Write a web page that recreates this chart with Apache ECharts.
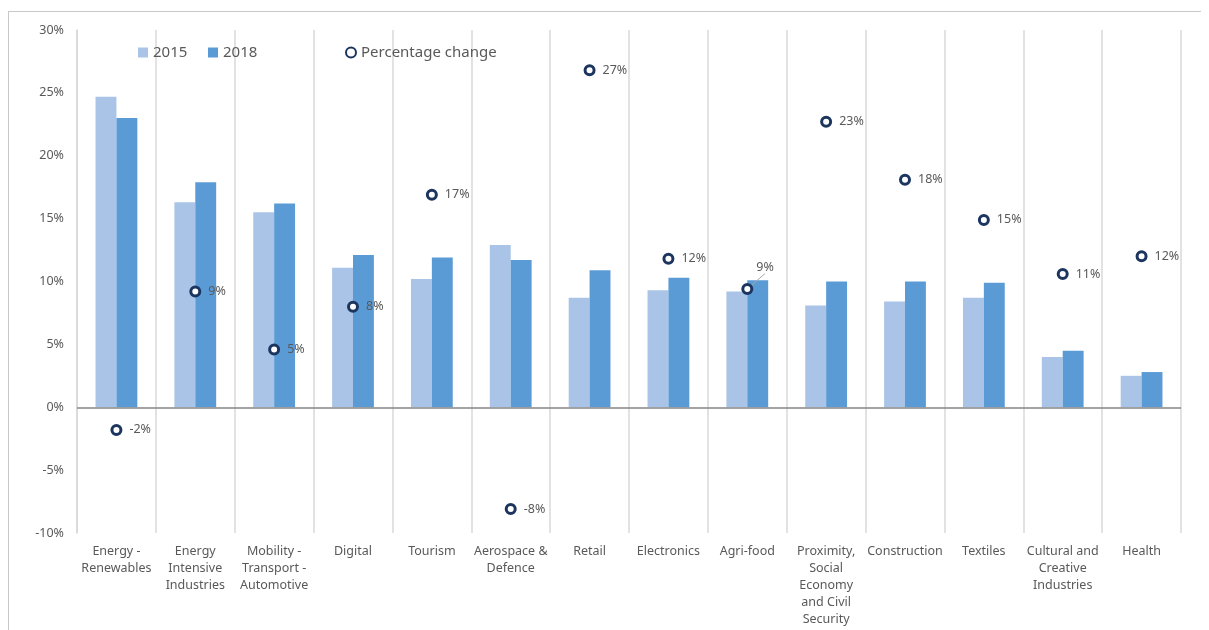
<!DOCTYPE html>
<html>
<head>
<meta charset="utf-8">
<script src="https://cdn.jsdelivr.net/npm/echarts@6/dist/echarts.min.js"></script>
<style>
  html, body { margin: 0; padding: 0; background: #fff; }
  #frame {
    position: absolute; left: 8px; top: 11px; width: 1192px; height: 630px;
    border-top: 1px solid #c8c8c8; border-left: 1px solid #c8c8c8;
  }
  #chart { position: absolute; left: 0; top: 0; width: 1209px; height: 630px; }
</style>
</head>
<body>
<div id="frame"></div>
<div id="chart"></div>
<script>
const categories = [
  'Energy -\nRenewables',
  'Energy\nIntensive\nIndustries',
  'Mobility -\nTransport -\nAutomotive',
  'Digital',
  'Tourism',
  'Aerospace &\nDefence',
  'Retail',
  'Electronics',
  'Agri-food',
  'Proximity,\nSocial\nEconomy\nand Civil\nSecurity',
  'Construction',
  'Textiles',
  'Cultural and\nCreative\nIndustries',
  'Health',
]
const share2015 = [24.7, 16.3, 15.5, 11.1, 10.2, 12.9, 8.7, 9.3, 9.2, 8.1, 8.4, 8.7, 4.0, 2.5]
const share2018 = [23.0, 17.9, 16.2, 12.1, 11.9, 11.7, 10.9, 10.3, 10.1, 10.0, 10.0, 9.9, 4.5, 2.8]
const pctChange = [-1.8, 9.2, 4.6, 8.0, 16.9, -8.1, 26.8, 11.8, 9.4, 22.7, 18.1, 14.9, 10.6, 12.0]

const font = 'Noto Sans'
const textColor = '#595959'
// the agri-food label sits above its marker with a leader line
const movedLabel = 8

const chart = echarts.init(document.getElementById('chart'))

chart.setOption({
  animation: false,
  textStyle: { fontFamily: font },
  legend: [
    {
      left: 133,
      top: 40,
      icon: 'rect',
      itemWidth: 10,
      itemHeight: 10,
      itemGap: 8,
      data: ['2015'],
      textStyle: { fontSize: 15, color: textColor, fontFamily: font },
    },
    {
      left: 203,
      top: 40,
      icon: 'rect',
      itemWidth: 10,
      itemHeight: 10,
      data: ['2018'],
      textStyle: { fontSize: 15, color: textColor, fontFamily: font },
    },
    {
      left: 340,
      top: 40,
      itemWidth: 10,
      itemHeight: 10,
      data: ['Percentage change'],
      textStyle: { fontSize: 15, color: textColor, fontFamily: font },
    },
  ],
  grid: {
    top: 30,
    left: 77,
    right: 28,
    bottom: 97,
    containLabel: false,
  },
  xAxis: {
    type: 'category',
    data: categories,
    boundaryGap: true,
    axisLine: { show: false, onZero: false },
    axisTick: { show: false },
    splitLine: {
      show: true,
      interval: 0,
      lineStyle: { color: '#d9d9d9', width: 1.5 },
    },
    axisLabel: {
      interval: 0,
      margin: 10,
      fontSize: 12.5,
      lineHeight: 17,
      color: textColor,
      fontFamily: font,
    },
  },
  yAxis: {
    type: 'value',
    min: -10,
    max: 30,
    interval: 5,
    axisLine: { show: true, lineStyle: { color: '#d9d9d9', width: 1.5 } },
    axisTick: { show: false },
    splitLine: { show: false },
    axisLabel: {
      formatter: '{value}%',
      fontSize: 12.5,
      color: textColor,
      margin: 13,
      fontFamily: font,
    },
  },
  series: [
    {
      name: '2015',
      type: 'bar',
      barGap: '0%',
      barCategoryGap: '47%',
      itemStyle: { color: '#a9c4e6' },
      data: share2015,
      markLine: {
        silent: true,
        symbol: 'none',
        label: { show: false },
        lineStyle: { color: '#868686', type: 'solid', width: 1.5 },
        data: [{ yAxis: 0 }],
      },
    },
    {
      name: '2018',
      type: 'bar',
      itemStyle: { color: '#5b9bd5' },
      data: share2018,
    },
    {
      name: 'Percentage change',
      type: 'scatter',
      symbol: 'circle',
      symbolSize: 9,
      z: 5,
      itemStyle: {
        color: '#ffffff',
        borderColor: '#1c355e',
        borderWidth: 3,
        opacity: 1,
      },
      label: {
        show: true,
        position: 'right',
        distance: 7,
        fontSize: 12.5,
        color: textColor,
        fontFamily: font,
        formatter: (p) => Math.round(p.value) + '%',
      },
      labelLine: { show: false },
      labelLayout: (p) => {
        if (p.dataIndex === movedLabel) {
          return { dx: -4, dy: -22 }
        }
      },
      data: pctChange.map((v, i) =>
        i === movedLabel
          ? { value: v, labelLine: { show: true, lineStyle: { color: '#a6a6a6', width: 1 } } }
          : v
      ),
    },
  ],
})
</script>
</body>
</html>
